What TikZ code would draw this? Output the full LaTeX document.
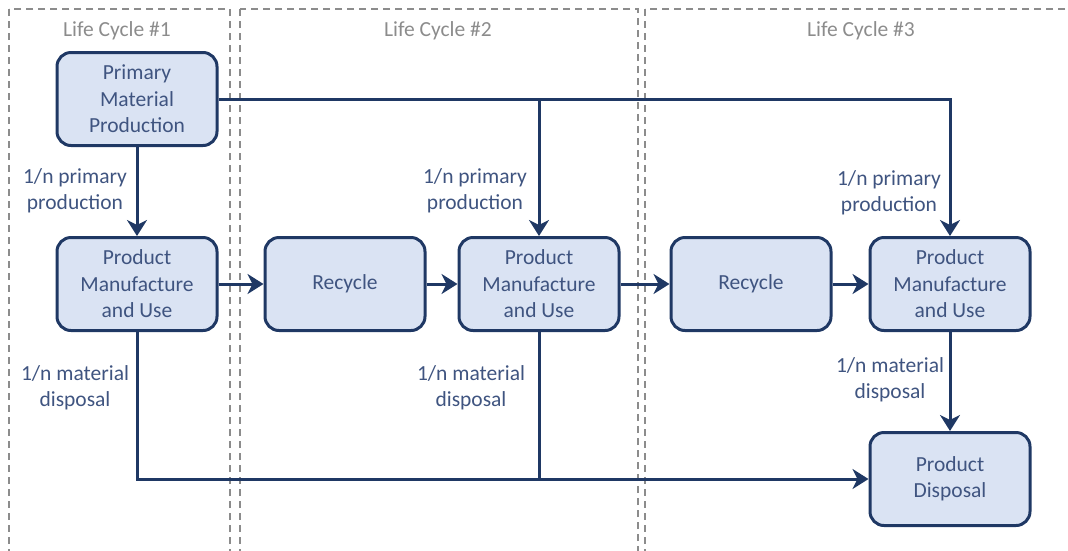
\documentclass[tikz,border=0pt]{standalone}
\usepackage{fontspec}
\setmainfont{Carlito}
\usepackage{xcolor}
\usepackage{tikz}
\usetikzlibrary{arrows.meta}

\definecolor{boxfill}{HTML}{DAE3F3}
\definecolor{boxline}{HTML}{1F3864}
\definecolor{boxtext}{HTML}{3F5480}
\definecolor{framegray}{HTML}{8C8C8C}

\begin{document}
\begin{tikzpicture}[x=1pt, y=-1pt,
		stage/.style={rectangle, rounded corners=14pt, draw=boxline, fill=boxfill, line width=3pt,
			minimum width=160pt, minimum height=93pt, align=center, text=boxtext,
			font=\fontsize{21.5}{26.5}\selectfont},
		flow/.style={-{Stealth[length=16pt, width=20pt, inset=5pt]}, draw=boxline, line width=3pt},
		link/.style={draw=boxline, line width=3pt},
		note/.style={align=center, text=boxtext, font=\fontsize{21.5}{26.5}\selectfont},
		cycle/.style={draw=framegray, line width=1.3pt, dash pattern=on 7pt off 5pt},
		title/.style={text=framegray, font=\fontsize{21.5}{24}\selectfont}]

		\useasboundingbox (0,0) rectangle (1068,550);
		\clip (0,0) rectangle (1068,550);

		% life cycle frames
		\draw[cycle] (9,9) rectangle (230,580);
		\draw[cycle] (240,9) rectangle (638,580);
		\draw[cycle] (645,9) rectangle (1100,580);

		\node[title] (lc1) at (117,31) {Life Cycle \#1};
		\node[title] (lc2) at (438,31) {Life Cycle \#2};
		\node[title] (lc3) at (861,31) {Life Cycle \#3};

		% stages
		\node[stage] (pmp) at (137,99) {Primary\\Material\\Production};
		\node[stage] (pmu1) at (137,284) {Product\\Manufacture\\and Use};
		\node[stage] (rec1) at (345,284) {Recycle};
		\node[stage] (pmu2) at (539,284) {Product\\Manufacture\\and Use};
		\node[stage] (rec2) at (751,284) {Recycle};
		\node[stage] (pmu3) at (950,284) {Product\\Manufacture\\and Use};
		\node[stage] (disp) at (950,479) {Product\\Disposal};

		\coordinate (split) at (pmu2.north |- pmp.east);
		\coordinate (join) at (pmu2.south |- disp.west);

		% connectors
		\draw[flow] (pmp) -- (pmu1);
		\draw[flow] (pmp.east) -| (pmu3.north);
		\draw[flow] (split) -- (pmu2.north);

		\draw[flow] (pmu1) -- (rec1);
		\draw[flow] (rec1) -- (pmu2);
		\draw[flow] (pmu2) -- (rec2);
		\draw[flow] (rec2) -- (pmu3);

		\draw[flow] (pmu1.south) |- (disp.west);
		\draw[link] (pmu2.south) -- (join);
		\draw[flow] (pmu3) -- (disp);

		% labels
		\node[note] (pp1) at (75,191) {1/n primary\\production};
		\node[note] (pp2) at (475,191) {1/n primary\\production};
		\node[note] (pp3) at (889,193) {1/n primary\\production};
		\node[note] (md1) at (75,388) {1/n material\\disposal};
		\node[note] (md2) at (471,388) {1/n material\\disposal};
		\node[note] (md3) at (890,380) {1/n material\\disposal};
	\end{tikzpicture}
\end{document}
